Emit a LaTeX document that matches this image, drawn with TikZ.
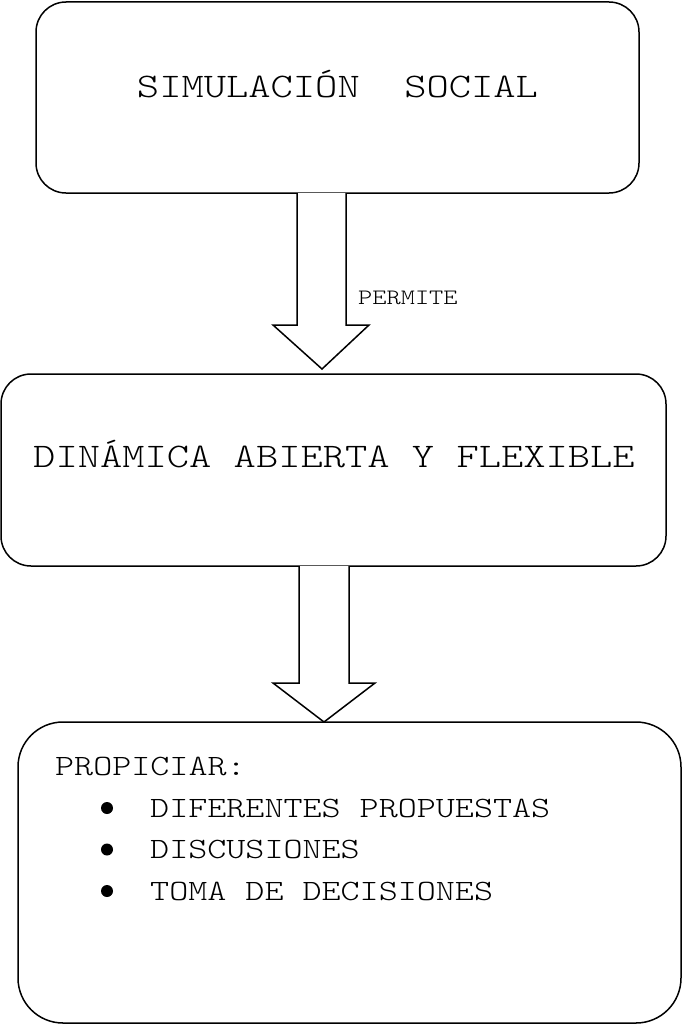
\documentclass[tikz,border=0pt]{standalone}
\usepackage{fontspec}
\setmainfont{Latin Modern Mono Light}[FakeStretch=1.23]
\usetikzlibrary{calc}
\newcommand{\tgrande}   {\fontsize{34.5}{41}\selectfont}
\newcommand{\tlista}    {\fontsize{29.5}{35}\selectfont}
\newcommand{\tchico}    {\fontsize{22}{26}\selectfont}

\begin{document}
\begin{tikzpicture}[x=1pt,y=-1pt,
   caja/.style={draw=black,line width=1.5pt,outer sep=0pt,inner sep=0pt},
   flecha/.style={draw=black,line width=1.5pt,fill=white,line join=miter}]
   \useasboundingbox (0,0) rectangle (683,1025);
   \node[caja,rounded corners=30pt,minimum width=603pt,minimum height=191pt] (sim) at (337.5,97.5) {};
   \node[caja,rounded corners=30pt,minimum width=665pt,minimum height=192pt] (din) at (333.5,470) {};
   \node[caja,rounded corners=45pt,minimum width=663pt,minimum height=301pt] (pro) at (349.5,872.5) {};
   \node[anchor=base] (simtxt) at (337.5,97) {\tgrande SIMULACIÓN\ \ SOCIAL};
   \node[anchor=base] (dintxt) at (334,467) {\tgrande DINÁMICA ABIERTA Y FLEXIBLE};
   \coordinate (t1) at (322,369);
   \coordinate (t2) at (324,722);
   \draw[flecha] ($(sim.south)+(-40.5,0)$) -- ++(0,132) -- ++(-24,0) -- (t1)
      -- ++(47,-44) -- ++(-23,0) -- ++(0,-132);
   \draw[flecha] ($(din.south)+(-34.5,0)$) -- ++(0,117) -- ++(-26,0) -- (t2)
      -- ++(51,-39) -- ++(-26,0) -- ++(0,-117);
   \node[anchor=base west,inner sep=0pt] (permite) at (358,304) {\tchico PERMITE};
   \node[anchor=base west,inner sep=0pt] (propiciar) at (55,775) {\tlista PROPICIAR:};
   \fill[black] (107,808) circle(6);
   \fill[black] (107,849.5) circle(6);
   \fill[black] (107,891) circle(6);
   \node[anchor=base west,inner sep=0pt] (item1) at (150,817) {\tlista DIFERENTES PROPUESTAS};
   \node[anchor=base west,inner sep=0pt] (item2) at (150,858) {\tlista DISCUSIONES};
   \node[anchor=base west,inner sep=0pt] (item3) at (150,900) {\tlista TOMA DE DECISIONES};
\end{tikzpicture}
\end{document}
